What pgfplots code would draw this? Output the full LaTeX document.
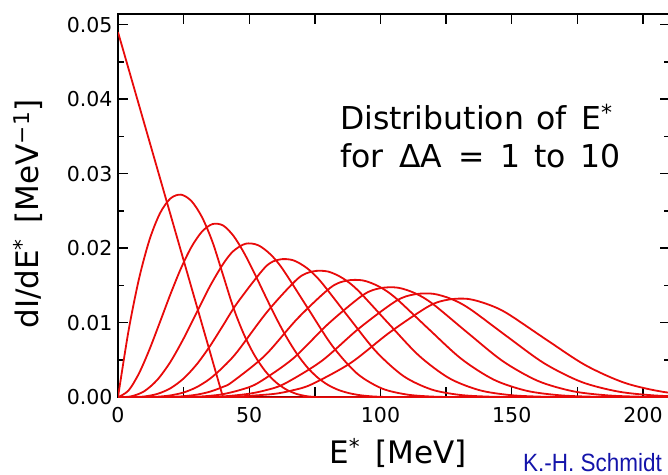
\documentclass[border=0pt]{standalone}
\usepackage{pgfplots}
\pgfplotsset{compat=1.18}
\usepackage{fontspec}
\setmainfont{DejaVu Sans}
\newfontfamily\authfont[FakeStretch=0.9]{Liberation Sans}
\definecolor{curve}{RGB}{232,10,10}
\definecolor{auth}{RGB}{20,20,170}
\begin{document}
\begin{tikzpicture}[x=1pt,y=1pt]
\useasboundingbox (0,0) rectangle (668,474);
\begin{axis}[
  at={(118pt,76.8pt)}, anchor=south west,
  scale only axis, width=552pt, height=383pt,
  xmin=0, xmax=210.29, ymin=0, ymax=0.05141,
  scaled y ticks=false, scaled x ticks=false,
  axis line style={line width=1.8pt, black},
  tick align=inside,
  major tick length=10pt, minor tick length=6pt,
  every tick/.style={line width=1.4pt, black},
  xtick={0,25,50,75,100,125,150,175,200},
  xticklabels={0,,50,,100,,150,,200},
  ytick={0,0.01,0.02,0.03,0.04,0.05},
  yticklabels={0.00,0.01,0.02,0.03,0.04,0.05},
  minor ytick={0.005,0.015,0.025,0.035,0.045},
  ticklabel style={font=\fontsize{20.5}{20.5}\selectfont},
  xticklabel style={yshift=-7pt},
  yticklabel style={xshift=-2pt},
  cycle list={{curve, line width=1.8pt}},
]
\addplot[curve, line width=1.8pt] coordinates {(0,0.049) (40,0) (215,0)};
\addplot[curve, line width=1.8pt, smooth] coordinates {(0,0) (4,0.008882) (8,0.015891) (12,0.021128) (16,0.024691) (20,0.026677) (24,0.027186) (28,0.026316) (32,0.024165) (36,0.020833) (40,0.016417) (44,0.011968) (48,0.008405) (52,0.005631) (56,0.003546) (60,0.002052) (64,0.001051) (68,0.000443) (72,0.000131) (76,0.0000164) (80,0) (215,0)};
\addplot[curve, line width=1.8pt, smooth] coordinates {(0,0) (4,0.000892) (8,0.0032) (12,0.00642) (16,0.0101) (20,0.013842) (24,0.0173) (28,0.020177) (32,0.022224) (36,0.023236) (40,0.023053) (44,0.02165) (48,0.019379) (52,0.016619) (56,0.013681) (60,0.010807) (64,0.008174) (68,0.005902) (72,0.004057) (76,0.00265) (80,0.001647) (84,0.000972) (88,0.000546) (92,0.00028) (96,0.00013) (100,0.000052) (104,0.000017) (108,0.000004) (120,0) (215,0)};
\addplot[curve, line width=1.8pt, smooth] coordinates {(0,0) (5,0.000115) (10,0.000801) (15,0.00234) (20,0.004757) (25,0.007881) (30,0.011392) (35,0.014875) (40,0.017857) (43.91,0.019602) (48.62,0.0206) (53.33,0.020408) (58.05,0.01918) (62.76,0.017182) (72.19,0.012011) (81.62,0.006904) (91.04,0.003188) (100.47,0.001181) (109.9,0.000365) (119.3,0.00009) (128.8,0.000014) (140,0) (215,0)};
\addplot[curve, line width=1.8pt, smooth] coordinates {(0,0) (5,0.0000075) (10,0.000101) (15,0.000441) (20,0.001203) (25,0.002513) (30,0.004412) (35,0.00684) (40,0.009621) (45.59,0.012724) (56.13,0.017468) (61.40,0.018468) (66.67,0.018387) (71.94,0.017332) (77.21,0.015532) (87.75,0.010788) (98.29,0.006138) (108.83,0.002816) (119.37,0.001041) (129.91,0.00032) (140.45,0.000086) (151,0.00002) (170,0) (215,0)};
\addplot[curve, line width=1.8pt, smooth] coordinates {(0,0) (10,0.00001) (15,0.0000667) (20,0.000242) (25,0.000636) (30,0.001353) (35,0.002473) (40,0.004032) (45.36,0.006068) (56.91,0.011496) (68.45,0.0159) (74.23,0.01688) (80,0.016866) (85.77,0.015935) (91.55,0.014286) (103.09,0.009883) (114.64,0.005583) (126.19,0.002547) (137.74,0.000939) (149.28,0.000287) (160.83,0.000076) (172.4,0.000018) (190,0) (215,0)};
\addplot[curve, line width=1.8pt, smooth] coordinates {(0,0) (15,0.0000084) (20,0.0000407) (25,0.000134) (30,0.000343) (35,0.000737) (40,0.001387) (43.44,0.002034) (55.92,0.005573) (68.39,0.01056) (80.86,0.014685) (87.1,0.015641) (93.33,0.01567) (99.57,0.01483) (105.81,0.013302) (118.28,0.009177) (130.75,0.005157) (143.22,0.002342) (155.69,0.000861) (168.17,0.000262) (180.6,0.000068) (193.1,0.000016) (210,0) (215,0)};
\addplot[curve, line width=1.8pt, smooth] coordinates {(0,0) (20,0.000006) (30,0.0000743) (35,0.000188) (40,0.000406) (46.67,0.000985) (53.33,0.001909) (66.67,0.00518) (80,0.009816) (93.33,0.013709) (100,0.014637) (106.67,0.014695) (113.33,0.013927) (120,0.012498) (133.33,0.008606) (146.67,0.004816) (160,0.002179) (173.33,0.000798) (186.67,0.000241) (200,0.000062) (213.3,0.000015)};
\addplot[curve, line width=1.8pt, smooth] coordinates {(0,0) (25,0.000003) (30,0.000014) (35.15,0.00004) (40,0.000103) (49.29,0.00043) (56.36,0.000941) (63.43,0.001805) (77.57,0.004859) (91.72,0.009208) (105.86,0.012903) (112.93,0.013804) (120,0.013883) (127.07,0.013173) (134.14,0.011827) (148.28,0.008132) (162.43,0.004535) (176.57,0.002045) (190.71,0.000747) (204.85,0.000225) (219,0.000058)};
\addplot[curve, line width=1.8pt, smooth] coordinates {(0,0) (30,0.000003) (40,0.0000233) (43.89,0.00005) (58.8,0.000419) (66.25,0.000902) (73.7,0.001717) (88.61,0.004591) (103.52,0.008698) (118.43,0.012222) (125.88,0.013097) (133.33,0.013191) (140.79,0.012478) (148.24,0.011254) (163.15,0.00773) (178.05,0.0043) (192.96,0.001933) (207.87,0.000704) (222.8,0.000213)};
\end{axis}
\node[anchor=base west, inner sep=0pt, font=\fontsize{31.5}{38}\selectfont] at (340,344) {Distribution\hspace{0.4em}of\hspace{0.45em}E\textsuperscript{*}};
\node[anchor=base west, inner sep=0pt, font=\fontsize{31.5}{38}\selectfont] at (340,306) {for\hspace{0.5em}ΔA\hspace{0.5em}=\hspace{0.5em}1\hspace{0.45em}to\hspace{0.45em}10};
\node[anchor=center, inner sep=0pt, font=\fontsize{31}{31}\selectfont] at (398,21) {E\textsuperscript{*}\hspace{0.5em}[MeV]};
\node[anchor=center, rotate=90, inner sep=0pt, font=\fontsize{31}{31}\selectfont] at (28,260) {dI/dE\textsuperscript{*}\hspace{0.5em}[MeV\textsuperscript{−1}]};
\node[anchor=base west, inner sep=0pt, text=auth, font=\authfont\fontsize{25}{25}\selectfont] at (523,2.5) {K.-H. Schmidt};
\end{tikzpicture}
\end{document}
